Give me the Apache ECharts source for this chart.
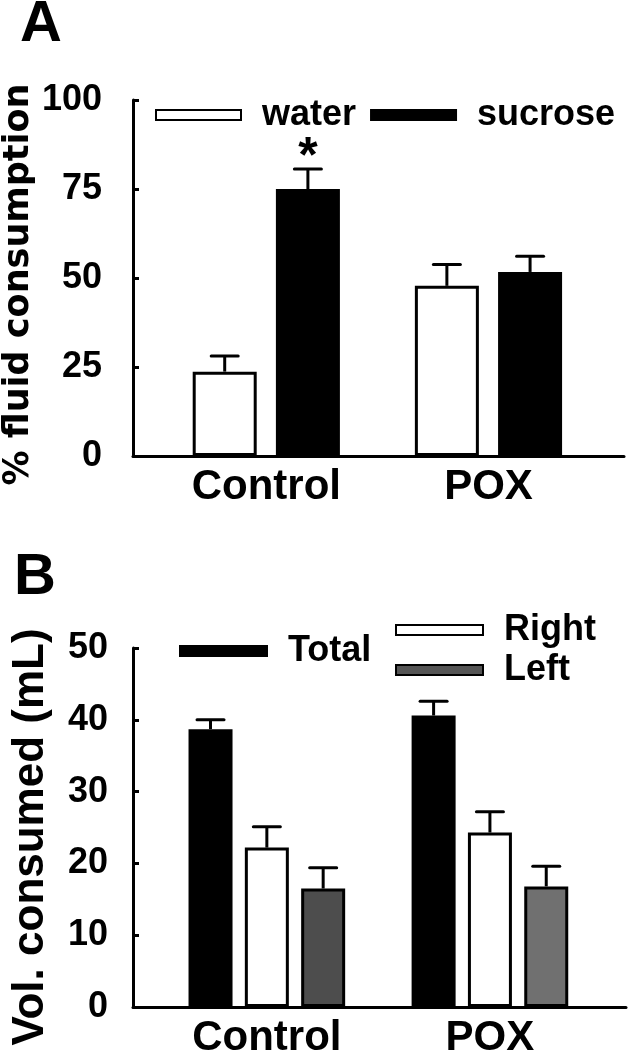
<!DOCTYPE html>
<html>
<head>
<meta charset="utf-8">
<script src="https://cdn.jsdelivr.net/npm/echarts@6/dist/echarts.min.js"></script>
<style>
  html, body { margin: 0; padding: 0; background: #fff; }
  #chart { width: 631px; height: 1050px; }
</style>
</head>
<body>
<div id="chart"></div>
<script>
// group labels
var categories = ['Control', 'POX'];

// panel A: % fluid consumption
var waterMean = [23.7, 47.8];
var waterErr = [4.4, 6.0];
var sucroseMean = [75.0, 51.7];
var sucroseErr = [5.6, 4.4];
var sucroseSig = ['*', ''];
var ticksA = [0, 25, 50, 75, 100];

// panel B: volume consumed (mL)
var totalMean = [38.7, 40.6];
var totalErr = [1.3, 2.0];
var rightMean = [22.2, 24.3];
var rightErr = [2.9, 2.9];
var leftMean = [16.5, 16.8];
var leftErr = [2.9, 2.8];
var leftColors = ['#4d4d4d', '#707070'];
var ticksB = [0, 10, 20, 30, 40, 50];

var SANS = "'Liberation Sans', Arial, sans-serif";

var chart = echarts.init(document.getElementById('chart'), null, { renderer: 'canvas' });

function pairs(values) {
  return values.map(function (v, i) { return [i, v]; });
}

function errData(mean, err, sig) {
  return mean.map(function (m, i) { return [i, m, err[i], sig ? sig[i] : '']; });
}

// draws upward error bar (and optional star) over bar #idx of n in a group
function errorBars(idx, n, barWidth, gap, capWidth) {
  return function (params, api) {
    var x = api.value(0), m = api.value(1), e = api.value(2);
    var base = api.coord([x, m]);
    var top = api.coord([x, m + e]);
    var cx = base[0] + (idx - (n - 1) / 2) * barWidth * (1 + gap);
    var children = [
      { type: 'line', shape: { x1: cx, y1: base[1], x2: cx, y2: top[1] },
        style: { stroke: '#000', lineWidth: 3 } },
      { type: 'line', shape: { x1: cx - capWidth / 2, y1: top[1], x2: cx + capWidth / 2, y2: top[1] },
        style: { stroke: '#000', lineWidth: 3, lineCap: 'round' } }
    ];
    var sig = api.value(3);
    if (sig) {
      children.push({ type: 'text', style: {
        x: cx, y: top[1] + 14, text: sig, fill: '#000',
        font: 'bold 50px ' + SANS, align: 'center', verticalAlign: 'bottom'
      } });
    }
    return { type: 'group', children: children };
  };
}

function xAxisCfg(gridIndex) {
  return {
    type: 'value', gridIndex: gridIndex, min: -0.6, max: 1.61,
    splitLine: { show: false },
    axisLine: { onZero: false, lineStyle: { color: '#000', width: 3 } },
    axisTick: { show: false },
    axisLabel: {
      customValues: [0, 1],
      formatter: function (v) { return categories[Math.round(v)]; },
      color: '#000', fontFamily: SANS, fontWeight: 'bold', fontSize: 42, margin: 10
    }
  };
}

function yAxisCfg(gridIndex, ticks, labelMargin, name, nameFont, nameSize, nameGap, nameShift) {
  return {
    type: 'value', gridIndex: gridIndex,
    min: ticks[0], max: ticks[ticks.length - 1], interval: ticks[1] - ticks[0],
    splitLine: { show: false },
    axisLine: { show: true, onZero: false, lineStyle: { color: '#000', width: 3 } },
    axisTick: { show: true, inside: true, length: 6, lineStyle: { color: '#000', width: 3 } },
    axisLabel: { color: '#000', fontFamily: SANS, fontWeight: 'bold', fontSize: 36, margin: labelMargin },
    name: name, nameLocation: 'middle', nameGap: nameGap, nameRotate: 90, nameMoveOverlap: false,
    nameTextStyle: { color: '#000', fontFamily: nameFont, fontWeight: 'bold', fontSize: nameSize,
      padding: [0, nameShift, 0, 0] }
  };
}

var legendText = { color: '#000', fontFamily: SANS, fontWeight: 'bold', fontSize: 36, padding: [0, 0, 0, 16] };

var option = {
  backgroundColor: '#fff',
  animation: false,
  grid: [
    { left: 133, right: 7, top: 100, bottom: 594, outerBoundsMode: 'none', containLabel: false },
    { left: 133, right: 5, top: 648, bottom: 43, outerBoundsMode: 'none', containLabel: false }
  ],
  xAxis: [xAxisCfg(0), xAxisCfg(1)],
  yAxis: [
    yAxisCfg(0, ticksA, 31, '% fluid consumption', "'DejaVu Sans', sans-serif", 35, 97, 13),
    yAxisCfg(1, ticksB, 25, 'Vol. consumed (mL)', SANS, 44, 80, 19)
  ],
  legend: [
    { data: ['water', 'sucrose'], left: 155, top: 97, padding: 0, itemWidth: 85, itemHeight: 10, itemGap: 14,
      icon: 'rect', textStyle: legendText },
    { data: ['Total'], left: 179, top: 633, padding: 0, itemWidth: 87, itemHeight: 10,
      icon: 'rect', textStyle: legendText },
    { data: ['Right', 'Left'], orient: 'vertical', left: 395, top: 612, padding: 0, itemWidth: 87, itemHeight: 10,
      itemGap: 4, icon: 'rect', textStyle: legendText }
  ],
  graphic: [
    { type: 'text', left: 20, top: -4, style: { text: 'A', font: 'bold 58px ' + SANS, fill: '#000' } },
    { type: 'text', left: 14, top: 549, style: { text: 'B', font: 'bold 58px ' + SANS, fill: '#000' } }
  ],
  series: [
    { name: 'water', type: 'bar', xAxisIndex: 0, yAxisIndex: 0, data: pairs(waterMean),
      barWidth: 64, barGap: '30%',
      itemStyle: { color: '#fff', borderColor: '#000', borderWidth: 3 } },
    { name: 'sucrose', type: 'bar', xAxisIndex: 0, yAxisIndex: 0, data: pairs(sucroseMean),
      barWidth: 64, barGap: '30%',
      itemStyle: { color: '#000', borderColor: '#000', borderWidth: 3 } },
    { type: 'custom', xAxisIndex: 0, yAxisIndex: 0, z: 5, data: errData(waterMean, waterErr),
      renderItem: errorBars(0, 2, 64, 0.3, 27) },
    { type: 'custom', xAxisIndex: 0, yAxisIndex: 0, z: 5, data: errData(sucroseMean, sucroseErr, sucroseSig),
      renderItem: errorBars(1, 2, 64, 0.3, 27) },

    { name: 'Total', type: 'bar', xAxisIndex: 1, yAxisIndex: 1, data: pairs(totalMean),
      barWidth: 44, barGap: '28%',
      itemStyle: { color: '#000', borderColor: '#000', borderWidth: 3 } },
    { name: 'Right', type: 'bar', xAxisIndex: 1, yAxisIndex: 1, data: pairs(rightMean),
      barWidth: 44, barGap: '28%',
      itemStyle: { color: '#fff', borderColor: '#000', borderWidth: 3 } },
    { name: 'Left', type: 'bar', xAxisIndex: 1, yAxisIndex: 1,
      data: leftMean.map(function (v, i) { return { value: [i, v], itemStyle: { color: leftColors[i] } }; }),
      barWidth: 44, barGap: '28%',
      itemStyle: { color: '#555', borderColor: '#000', borderWidth: 3 } },
    { type: 'custom', xAxisIndex: 1, yAxisIndex: 1, z: 5, data: errData(totalMean, totalErr),
      renderItem: errorBars(0, 3, 44, 0.28, 27) },
    { type: 'custom', xAxisIndex: 1, yAxisIndex: 1, z: 5, data: errData(rightMean, rightErr),
      renderItem: errorBars(1, 3, 44, 0.28, 27) },
    { type: 'custom', xAxisIndex: 1, yAxisIndex: 1, z: 5, data: errData(leftMean, leftErr),
      renderItem: errorBars(2, 3, 44, 0.28, 27) }
  ]
};

chart.setOption(option);
</script>
</body>
</html>
